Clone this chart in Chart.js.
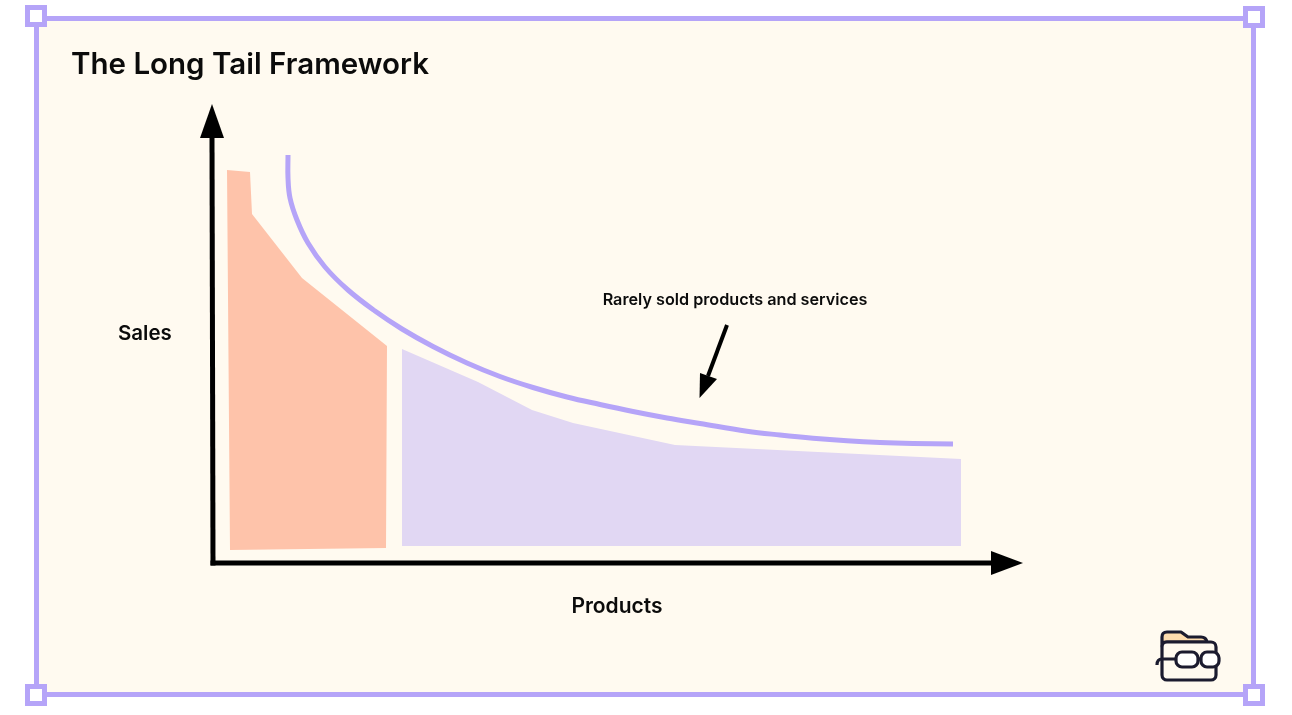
<!DOCTYPE html>
<html>
<head>
<meta charset="utf-8">
<title>The Long Tail Framework</title>
<script src="https://cdn.jsdelivr.net/npm/chart.js@4/dist/chart.umd.min.js"></script>
<style>
  html, body { margin: 0; background: #fff; }
  #wrap { position: relative; width: 1292px; height: 715px; overflow: hidden; }
  #frame { position: absolute; left: 34px; top: 16px; width: 1222px; height: 681px; box-sizing: border-box;
           border: 5px solid #b5a4f8; background: #fffaf0; }
  .handle { position: absolute; width: 22px; height: 22px; box-sizing: border-box;
            border: 5px solid #b5a4f8; background: #fff; z-index: 3; }
  canvas { position: absolute; left: 0; top: 0; z-index: 1; }
  #logo { position: absolute; left: 0; top: 0; z-index: 2; }
</style>
</head>
<body>
<div id="wrap">
  <div id="frame"></div>
  <div class="handle" style="left:25px;top:5px"></div>
  <div class="handle" style="left:1243px;top:6px"></div>
  <div class="handle" style="left:25px;top:684px"></div>
  <div class="handle" style="left:1243px;top:684px"></div>
  <canvas id="chart" width="1292" height="715"></canvas>
  <svg id="logo" width="1292" height="715" fill="none" stroke="#1b1b2f" stroke-width="3.2" stroke-linejoin="round">
    <path d="M1162 646 V637 Q1162 632 1167 632 H1181 L1188 637 H1201 Q1206 637 1207 642 H1166 Q1162 642 1162 646Z" fill="#fddcae"/>
    <rect x="1162" y="642" width="54" height="38" rx="5" fill="#fffaf0"/>
    <path d="M1157 665 Q1157 659 1162 659 H1177"/>
    <rect x="1176" y="652" width="22" height="15" rx="6" fill="#fff"/>
    <path d="M1198 659 H1201"/>
    <rect x="1201" y="652" width="18" height="15" rx="6" fill="#fff"/>
  </svg>
</div>
<script>
const curveX = [75, 75, 77, 84, 95, 112, 135, 162, 189, 220, 254, 287, 320, 354, 387, 420, 454, 487, 534, 567, 600, 634, 667, 700, 740];
const curveY = [408, 385, 365, 343, 320, 296, 273, 252, 234, 216.5, 200, 186.5, 175.5, 166, 158.5, 151.5, 145, 139.5, 131.8, 128, 124.8, 122.3, 120.6, 119.6, 119];

const headX = [14, 37, 39, 89, 174, 173, 17];
const headY = [393, 391, 349, 285, 217, 15, 13];

const tailX = [189, 265, 319, 360, 462, 748, 748, 189];
const tailY = [214, 181, 153, 140, 118, 104, 17, 17];

const xAxisX = [0, 778];
const xAxisY = [0, 0];
const yAxisX = [0, -1];
const yAxisY = [0, 425];
const xArrowX = [778, 810, 778];
const xArrowY = [12, 0, -12];
const yArrowX = [-13, -1, 11];
const yArrowY = [425, 459, 425];

const noteLineX = [514, 495];
const noteLineY = [238, 187];
const noteHeadX = [486.5, 487, 504];
const noteHeadY = [165, 190, 184];

const INK = '#000000';
const toXY = (xs, ys) => xs.map((x, i) => ({ x, y: ys[i] }));

const shape = (xs, ys, color) => ({
    data: toXY(xs, ys), showLine: true, fill: 'shape', backgroundColor: color,
    borderWidth: 0, pointRadius: 0, tension: 0, clip: false,
});
const stroke = (xs, ys, color, width, cap) => ({
    data: toXY(xs, ys), showLine: true, fill: false, borderColor: color,
    borderWidth: width, borderCapStyle: cap, pointRadius: 0, tension: 0, clip: false,
});

// plain text labels, placed through the chart scales
const textLabels = {
    id: 'textLabels',
    afterDatasetsDraw(chart) {
        const { ctx, scales: { x, y } } = chart;
        const put = (text, vx, vy, font, align) => {
            ctx.save();
            ctx.font = font;
            ctx.fillStyle = '#0b0b0b';
            ctx.textAlign = align;
            ctx.textBaseline = 'alphabetic';
            ctx.fillText(text, x.getPixelForValue(vx), y.getPixelForValue(vy));
            ctx.restore();
        };
        put('The Long Tail Framework', -142, 489, '600 29.5px Inter', 'left');
        put('Sales', -95, 223, '600 20.5px Inter', 'left');
        put('Products', 404, -49.5, '600 21px Inter', 'center');
        put('Rarely sold products and services', 522, 258, '600 16.2px Inter', 'center');
    }
};

new Chart(document.getElementById('chart').getContext('2d'), {
    type: 'scatter',
    data: {
        datasets: [
            stroke(xAxisX, xAxisY, INK, 5, 'square'),
            stroke(yAxisX, yAxisY, INK, 5, 'square'),
            shape(xArrowX, xArrowY, INK),
            shape(yArrowX, yArrowY, INK),
            stroke(noteLineX, noteLineY, INK, 4, 'butt'),
            shape(noteHeadX, noteHeadY, INK),
            { ...stroke(curveX, curveY, '#b5a4f8', 5, 'butt'), tension: 0.4 },
            shape(headX, headY, '#fec3aa'),
            shape(tailX, tailY, '#e1d7f3'),
        ]
    },
    options: {
        responsive: false,
        animation: false,
        layout: { padding: { left: 199, right: 268, top: 104, bottom: 138 } },
        plugins: { legend: { display: false }, tooltip: { enabled: false } },
        scales: {
            x: { display: false, type: 'linear', min: -14, max: 811 },
            y: { display: false, type: 'linear', min: -14, max: 459 },
        }
    },
    plugins: [textLabels]
});
</script>
</body>
</html>
